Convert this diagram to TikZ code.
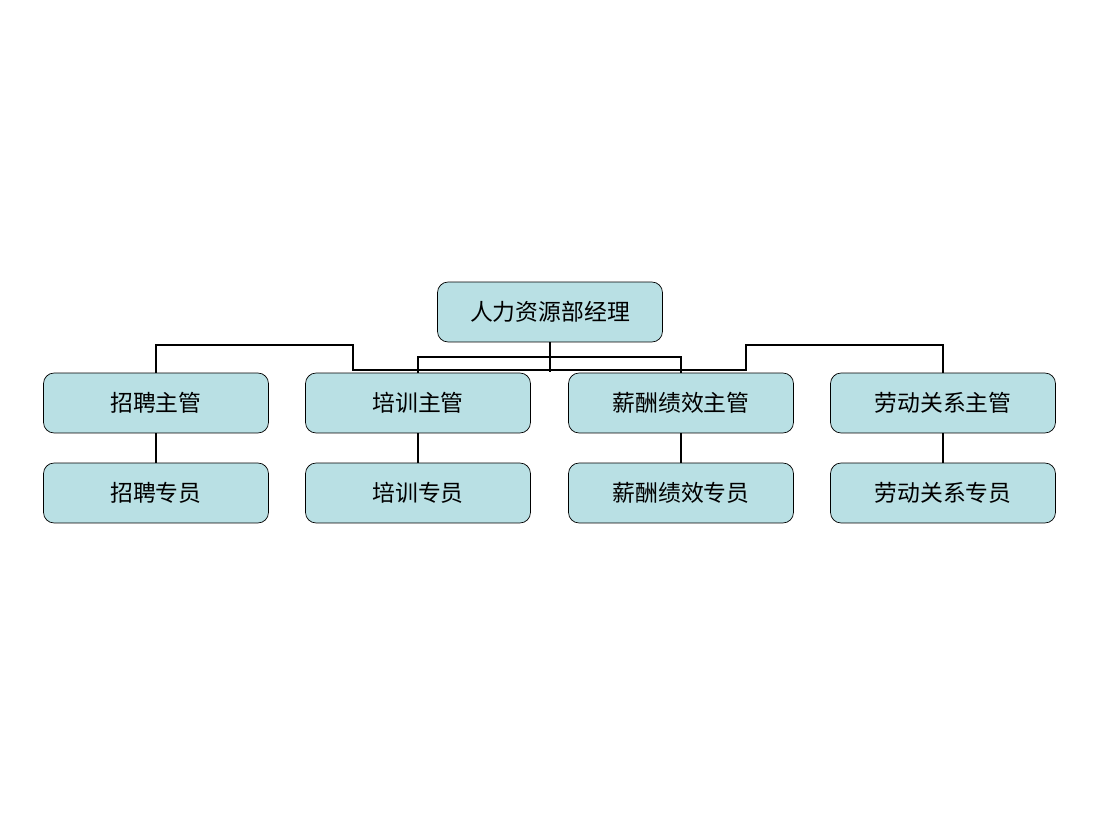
\documentclass[tikz,border=0pt]{standalone}
\usepackage{fontspec}
\newfontfamily\cjk{Noto Sans CJK SC}
\definecolor{boxfill}{RGB}{185,224,228}
\begin{document}
\begin{tikzpicture}[x={(0.02cm,0)},y={(0,-0.02cm)},
  post/.style={draw, fill=boxfill, rounded corners=6pt, minimum width=4.5cm, minimum height=1.2cm, font=\cjk\fontsize{13}{15}\selectfont},
  link/.style={line width=1.6pt}]
  \useasboundingbox (0,0) rectangle (1100,825);
  \node[post] (head) at (550,312) {人力资源部经理};
  \foreach \n/\x/\a/\b in {rec/156/招聘主管/招聘专员, trn/418/培训主管/培训专员, pay/681/薪酬绩效主管/薪酬绩效专员, lab/943/劳动关系主管/劳动关系专员} {
    \node[post] (\n) at (\x,403) {\a};
    \node[post] (\n s) at (\x,493) {\b};
    \draw[link] (\n) -- (\n s);
  }
  % connectors
  \draw[link] (head) -- (550,372);
  \draw[link] (trn.north) -- (418,357) -- (681,357) -- (pay.north);
  \draw[link] (rec.north) -- (156,345) -- (353,345) -- (353,370) -- (746,370) -- (746,345) -- (943,345) -- (lab.north);
\end{tikzpicture}
\end{document}
